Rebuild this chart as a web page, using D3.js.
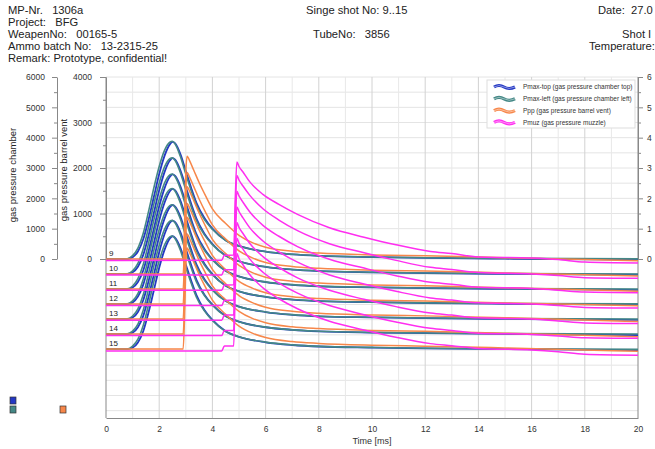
<!DOCTYPE html>
<html>
<head>
<meta charset="utf-8">
<script src="https://cdn.jsdelivr.net/npm/d3@7"></script>
<style>
  body { margin: 0; background: #fff; }
  svg { font-family: "Liberation Sans", Arial, sans-serif; }
  .hdr { font-size: 11.2px; fill: #222; white-space: pre; }
  .axis text { font-size: 8.5px; fill: #333; }
  .axis path, .axis line { stroke: #888; }
</style>
</head>
<body>
<svg id="chart" width="655" height="449"></svg>
<script>
(function () {
    'use strict';

    // shots in the waterfall, top to bottom
    var shots = [9, 10, 11, 12, 13, 14, 15];
    var shotOffset = 495; // chamber bar between two shots

    // Pmax (chamber) sample times, ms
    var pmaxTime = [0, 0.8, 1.0, 1.2, 1.4, 1.6, 1.8, 2.0, 2.2, 2.4, 2.5, 2.6, 2.8, 3.0, 3.2, 3.4, 3.7, 4.0, 4.5, 5, 6, 7, 8, 10, 12, 15, 20];

    var pmaxTop = [
        [0, 0, 60, 250, 650, 1300, 2050, 2800, 3400, 3780, 3860, 3810, 3450, 2900, 2350, 1850, 1350, 1000, 620, 430, 240, 150, 100, 60, 35, 10, -20],
        [0, 0, 55, 240, 630, 1270, 2020, 2760, 3360, 3740, 3820, 3770, 3410, 2870, 2320, 1830, 1330, 990, 610, 420, 235, 145, 95, 55, 30, 5, -25],
        [0, 0, 50, 230, 610, 1250, 1990, 2730, 3320, 3700, 3780, 3730, 3380, 2840, 2300, 1810, 1320, 980, 600, 415, 230, 140, 90, 55, 30, 5, -25],
        [0, 0, 55, 245, 640, 1280, 2010, 2750, 3340, 3720, 3800, 3750, 3400, 2860, 2310, 1820, 1330, 985, 605, 420, 235, 145, 95, 60, 35, 10, -20],
        [0, 0, 50, 235, 620, 1250, 1980, 2720, 3310, 3690, 3760, 3710, 3370, 2830, 2290, 1800, 1310, 975, 600, 410, 230, 140, 90, 55, 30, 5, -30],
        [0, 0, 45, 225, 600, 1230, 1960, 2700, 3290, 3670, 3740, 3690, 3350, 2810, 2280, 1790, 1300, 970, 595, 410, 225, 140, 90, 50, 30, 5, -30],
        [0, 0, 45, 220, 590, 1210, 1940, 2680, 3270, 3650, 3720, 3670, 3330, 2790, 2260, 1780, 1290, 960, 590, 405, 225, 135, 85, 50, 25, 0, -35]
    ];

    var pmaxLeft = [
        [0, 10, 110, 360, 850, 1570, 2350, 3050, 3580, 3850, 3880, 3790, 3370, 2800, 2260, 1780, 1300, 980, 610, 425, 245, 155, 105, 65, 40, 20, 5],
        [0, 10, 105, 350, 830, 1540, 2310, 3000, 3530, 3800, 3830, 3740, 3330, 2770, 2230, 1760, 1290, 970, 600, 420, 240, 150, 100, 60, 35, 15, 0],
        [0, 8, 100, 340, 810, 1510, 2280, 2960, 3490, 3760, 3790, 3700, 3300, 2740, 2210, 1740, 1280, 960, 595, 415, 235, 145, 95, 60, 35, 15, 0],
        [0, 10, 105, 345, 820, 1530, 2300, 2980, 3510, 3780, 3810, 3720, 3320, 2760, 2220, 1750, 1285, 965, 600, 420, 240, 150, 100, 60, 40, 20, 5],
        [0, 8, 100, 335, 800, 1500, 2270, 2950, 3470, 3740, 3770, 3680, 3290, 2730, 2200, 1730, 1275, 955, 590, 410, 235, 145, 95, 60, 35, 15, 0],
        [0, 8, 95, 330, 790, 1490, 2250, 2930, 3450, 3720, 3750, 3660, 3270, 2710, 2190, 1720, 1270, 950, 585, 410, 230, 140, 95, 55, 35, 15, 0],
        [0, 5, 95, 325, 780, 1470, 2230, 2910, 3430, 3700, 3730, 3640, 3250, 2700, 2180, 1710, 1260, 945, 580, 405, 230, 140, 90, 55, 30, 10, -5]
    ];

    // Ppp (barrel vent)
    var pppTime = [0, 2.9, 2.95, 3.0, 3.05, 3.15, 3.3, 3.5, 3.75, 4.0, 4.5, 5, 5.5, 6, 7, 8, 10, 12, 15, 20];
    var ppp = [
        [0, 0, 700, 1900, 2260, 2150, 1950, 1680, 1380, 1100, 780, 520, 360, 260, 170, 130, 90, 70, 30, -40],
        [0, 0, 650, 1850, 2230, 2120, 1920, 1650, 1350, 1080, 770, 510, 355, 255, 165, 125, 85, 65, 25, -45],
        [0, 0, 680, 1880, 2250, 2140, 1940, 1670, 1370, 1090, 780, 520, 360, 260, 170, 130, 90, 70, 30, -50],
        [0, 0, 640, 1840, 2210, 2100, 1900, 1630, 1340, 1070, 760, 500, 350, 250, 160, 120, 85, 65, 25, -40],
        [0, 0, 660, 1860, 2240, 2130, 1930, 1660, 1360, 1090, 775, 515, 360, 260, 170, 125, 90, 70, 30, -55],
        [0, 0, 630, 1830, 2200, 2090, 1890, 1620, 1330, 1060, 755, 500, 345, 250, 160, 120, 80, 60, 20, -60],
        [0, 0, 650, 1850, 2220, 2110, 1910, 1640, 1350, 1075, 765, 505, 350, 255, 165, 125, 85, 65, 25, -50]
    ];

    // Pmuz (muzzle), right axis
    var pmuzTime = [0, 4.35, 4.45, 4.8, 4.86, 4.92, 5.0, 5.15, 5.4, 5.9, 6.5, 7.2, 8.4, 9.7, 10.9, 12.2, 13, 14, 16, 17, 18, 20];
    var pmuz = [
        [-0.05, -0.04, 0.12, 0.13, 2.0, 3.2, 3.05, 2.87, 2.55, 2.13, 1.8, 1.47, 1.03, 0.72, 0.47, 0.25, 0.18, 0.07, 0.03, -0.02, -0.1, -0.13],
        [-0.03, -0.03, 0.14, 0.14, 2.1, 3.25, 3.1, 2.9, 2.6, 2.15, 1.78, 1.43, 1.0, 0.7, 0.45, 0.22, 0.15, 0.05, 0.0, -0.05, -0.12, -0.14],
        [-0.04, -0.04, 0.13, 0.14, 2.0, 3.22, 3.07, 2.86, 2.55, 2.1, 1.74, 1.4, 0.98, 0.69, 0.44, 0.22, 0.16, 0.06, 0.02, -0.04, -0.1, -0.12],
        [-0.05, -0.05, 0.12, 0.13, 2.1, 3.2, 3.05, 2.84, 2.52, 2.08, 1.72, 1.38, 0.96, 0.66, 0.42, 0.2, 0.13, 0.04, 0.0, -0.05, -0.11, -0.13],
        [-0.04, -0.04, 0.13, 0.13, 2.0, 3.18, 3.02, 2.82, 2.5, 2.06, 1.7, 1.36, 0.95, 0.65, 0.41, 0.2, 0.13, 0.04, 0.0, -0.06, -0.13, -0.15],
        [-0.05, -0.05, 0.12, 0.12, 2.1, 3.16, 3.0, 2.8, 2.48, 2.04, 1.68, 1.35, 0.94, 0.64, 0.4, 0.19, 0.12, 0.03, -0.01, -0.06, -0.12, -0.14],
        [-0.06, -0.06, 0.1, 0.1, 2.0, 3.15, 2.98, 2.78, 2.46, 2.02, 1.66, 1.33, 0.92, 0.63, 0.39, 0.18, 0.11, 0.02, -0.03, -0.09, -0.17, -0.2]
    ];

    var xTicks = d3.range(0, 21, 2);
    var legendLabels = [
        'Pmax-top (gas pressure chamber top)',
        'Pmax-left (gas pressure chamber left)',
        'Ppp (gas pressure barrel vent)',
        'Pmuz (gas pressure muzzle)'
    ];
    var colors = ['#2438c4', '#448886', '#f7874a', '#ff2ef0'];

    var svg = d3.select('#chart');
    var left = 106, right = 638, top = 77, bottom = 418;
    var fmt = d3.format('d');

    var x = d3.scaleLinear().domain([0, 20]).range([left, right]);
    var yCh = d3.scaleLinear().domain([0, 6000]).range([259, top]);
    var yBv = d3.scaleLinear().domain([0, 4000]).range([259, top]);
    var yMz = d3.scaleLinear().domain([0, 6]).range([259, top]);
    var shotStep = yCh(0) - yCh(shotOffset);

    // header
    var hdr = [
        [8, 14, 'MP-Nr.   1306a'],
        [8, 26, 'Project:   BFG'],
        [8, 38, 'WeapenNo:   00165-5'],
        [8, 50, 'Ammo batch No:   13-2315-25'],
        [8, 62, 'Remark: Prototype, confidential!'],
        [306, 14, 'Singe shot No: 9..15'],
        [313, 38, 'TubeNo:   3856'],
        [598, 14, 'Date:  27.0'],
        [622, 38, 'Shot I'],
        [589, 50, 'Temperature:']
    ];
    svg.selectAll('text.hdr').data(hdr).enter().append('text')
        .attr('class', 'hdr')
        .attr('x', function (d) { return d[0]; })
        .attr('y', function (d) { return d[1]; })
        .text(function (d) { return d[2]; });

    // grid
    var grid = svg.append('g');
    grid.selectAll('line.h').data(d3.range(-5000, 6001, 500)).enter().append('line')
        .attr('x1', left).attr('x2', right)
        .attr('y1', function (d) { return yCh(d); })
        .attr('y2', function (d) { return yCh(d); })
        .attr('stroke', '#e4e4e4');
    grid.selectAll('line.v').data(d3.range(1, 20)).enter().append('line')
        .attr('y1', top).attr('y2', bottom)
        .attr('x1', function (d) { return x(d); })
        .attr('x2', function (d) { return x(d); })
        .attr('stroke', function (d) { return d % 2 === 0 ? '#d2d2d2' : '#e8e8e8'; });

    // plot frame
    svg.append('line').attr('x1', left).attr('x2', left).attr('y1', top).attr('y2', bottom).attr('stroke', '#888');
    svg.append('line').attr('x1', right).attr('x2', right).attr('y1', top).attr('y2', bottom).attr('stroke', '#888');

    // chamber axis
    var chAx = svg.append('g').attr('class', 'axis').attr('transform', 'translate(57,0)');
    chAx.call(d3.axisLeft(yCh).tickValues(d3.range(0, 6001, 1000)).tickFormat(fmt).tickSize(5).tickSizeOuter(0).tickPadding(7));
    chAx.append('g').call(d3.axisLeft(yCh).tickValues(d3.range(500, 6000, 1000)).tickSize(3).tickFormat(''))
        .select('.domain').remove();

    // barrel vent axis
    var bvAx = svg.append('g').attr('class', 'axis').attr('transform', 'translate(' + left + ',0)');
    bvAx.call(d3.axisLeft(yBv).tickValues(d3.range(0, 4001, 1000)).tickFormat(fmt).tickSize(6).tickSizeOuter(0).tickPadding(8));
    bvAx.append('g').call(d3.axisLeft(yBv).tickValues(d3.range(500, 4000, 1000)).tickSize(3).tickFormat(''))
        .select('.domain').remove();

    // muzzle axis (right)
    var mzAx = svg.append('g').attr('class', 'axis').attr('transform', 'translate(' + right + ',0)');
    mzAx.call(d3.axisRight(yMz).tickValues(d3.range(0, 7, 1)).tickFormat(fmt).tickSize(5).tickSizeOuter(0).tickPadding(4));
    mzAx.append('g').call(d3.axisRight(yMz).tickValues(d3.range(0.5, 6, 1)).tickSize(3).tickFormat(''))
        .select('.domain').remove();

    // time axis
    var xAx = svg.append('g').attr('class', 'axis').attr('transform', 'translate(0,' + bottom + ')');
    xAx.call(d3.axisBottom(x).tickValues(xTicks).tickFormat(fmt).tickSize(0).tickSizeOuter(0).tickPadding(8));

    svg.append('text').attr('x', 372).attr('y', 444).attr('text-anchor', 'middle')
        .style('font-size', '9px').attr('fill', '#333').text('Time [ms]');
    svg.append('text').attr('transform', 'translate(16,175) rotate(-90)').attr('text-anchor', 'middle')
        .style('font-size', '9.5px').attr('fill', '#222').text('gas pressure chamber');
    svg.append('text').attr('transform', 'translate(67,170) rotate(-90)').attr('text-anchor', 'middle')
        .style('font-size', '9.5px').attr('fill', '#222').text('gas pressure barrel vent');

    // traces
    svg.append('clipPath').attr('id', 'plotclip').append('rect')
        .attr('x', left).attr('y', top).attr('width', right - left).attr('height', bottom - top);
    var plot = svg.append('g').attr('clip-path', 'url(#plotclip)');

    function drawSeries(times, rows, scale, color, width) {
        var line = d3.line()
            .x(function (d) { return x(d[0]); })
            .y(function (d) { return scale(d[1]); })
            .curve(d3.curveMonotoneX);
        rows.forEach(function (vals, i) {
            var pts = vals.map(function (v, j) { return [times[j], v]; });
            plot.append('path')
                .attr('transform', 'translate(0,' + (i * shotStep) + ')')
                .attr('d', line(pts))
                .attr('fill', 'none')
                .attr('stroke', color)
                .attr('stroke-width', width)
                .attr('stroke-linejoin', 'round');
        });
    }
    drawSeries(pmaxTime, pmaxTop, yCh, colors[0], 1.8);
    drawSeries(pmaxTime, pmaxLeft, yCh, colors[1], 1.6);
    drawSeries(pppTime, ppp, yBv, colors[2], 1.5);
    drawSeries(pmuzTime, pmuz, yMz, colors[3], 1.5);

    // shot labels
    svg.selectAll('text.shot').data(shots).enter().append('text')
        .attr('x', 109)
        .attr('y', function (d, i) { return yCh(0) + i * shotStep - 3; })
        .style('font-size', '8px').attr('fill', '#222')
        .text(function (d) { return d; });

    // legend
    var lg = svg.append('g');
    lg.append('rect').attr('x', 487).attr('y', 80).attr('width', 148).attr('height', 48)
        .attr('fill', '#fff').attr('stroke', '#ddd');
    legendLabels.forEach(function (lab, i) {
        var yy = 87 + i * 11.8;
        var p = d3.path();
        p.moveTo(494, yy);
        p.quadraticCurveTo(499, yy - 3, 504, yy);
        p.quadraticCurveTo(509, yy + 3, 515, yy);
        lg.append('path').attr('d', p.toString()).attr('fill', 'none')
            .attr('stroke', colors[i]).attr('stroke-width', 3.2);
        lg.append('path').attr('d', p.toString()).attr('fill', 'none')
            .attr('stroke', '#fff').attr('stroke-opacity', 0.45).attr('stroke-width', 1);
        lg.append('text').attr('x', 523).attr('y', yy + 2.3)
            .style('font-size', '6.5px').attr('fill', '#333').text(lab);
    });

    // small markers bottom left
    var marks = [[10, 397, colors[0]], [10, 406, colors[1]], [60, 406, colors[2]]];
    svg.selectAll('rect.mk').data(marks).enter().append('rect')
        .attr('x', function (d) { return d[0]; })
        .attr('y', function (d) { return d[1]; })
        .attr('width', 6).attr('height', 7)
        .attr('fill', function (d) { return d[2]; })
        .attr('stroke', '#333').attr('stroke-width', 0.7);
}());
</script>
</body>
</html>
